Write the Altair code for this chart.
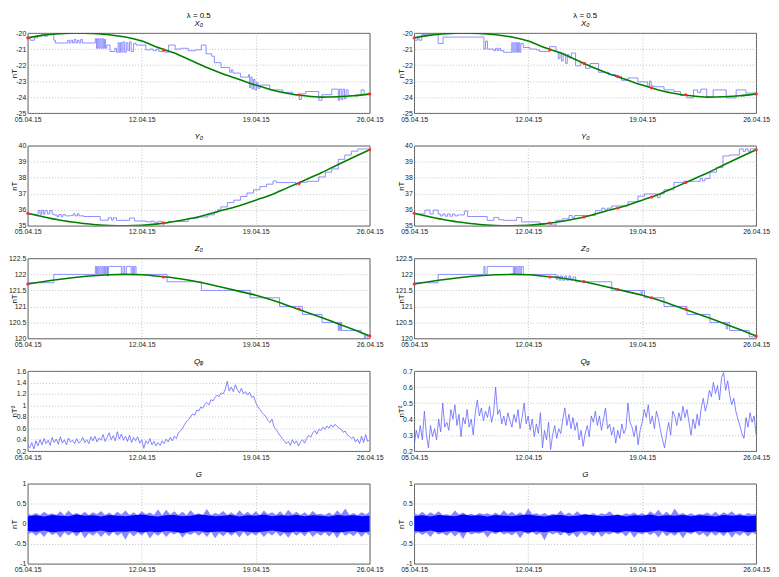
import json
import altair as alt
import numpy as np
import pandas as pd

# ---------------- axis text ----------------
TICK_DAYS = [0, 7, 14, 21]
TICK_LABELS = ["05.04.15", "12.04.15", "19.04.15", "26.04.15"]

# ---------------- fitted curves (value per day 0..21) ----------------
FIT_DAYS = list(range(22))
X0_FIT = [-20.3, -20.13, -20.04, -20.0, -20.02, -20.1, -20.25, -20.5, -20.9, -21.25, -21.7,
          -22.15, -22.55, -22.9, -23.25, -23.55, -23.78, -23.92, -24.0, -23.98, -23.92, -23.8]
Y0_FIT = [35.78, 35.55, 35.35, 35.2, 35.08, 35.02, 35.0, 35.03, 35.12, 35.27, 35.45,
          35.7, 35.98, 36.25, 36.6, 36.95, 37.4, 37.85, 38.3, 38.8, 39.28, 39.75]
Z0_FIT = [121.70, 121.78, 121.85, 121.91, 121.96, 121.99, 122.0, 121.99, 121.94, 121.89, 121.81,
          121.71, 121.59, 121.47, 121.35, 121.2, 121.02, 120.84, 120.66, 120.47, 120.28, 120.08]

# ---------------- knots (red markers) ----------------
KNOTS_L = [0, 8.33, 16.67, 21]
KNOTS_R = [0, 8.33, 10.42, 12.5, 14.58, 16.67, 21]
X0_KNOT_L = [-20.3, -21.05, -23.85, -23.8]
X0_KNOT_R = [-20.3, -21.05, -21.89, -22.72, -23.42, -23.85, -23.8]
Y0_KNOT_L = [35.78, 35.17, 37.65, 39.75]
Y0_KNOT_R = [35.78, 35.17, 35.55, 36.11, 36.8, 37.7, 39.75]
Z0_KNOT_L = [121.70, 121.92, 120.92, 120.08]
Z0_KNOT_R = [121.70, 121.92, 121.78, 121.53, 121.27, 120.92, 120.08]

# ---------------- step traces (day, value) ----------------
X0_STEP_L = [(0, -20.35), (0.15, -20.45), (0.4, -20.3), (0.6, -20.15), (0.85, -20.05), (1.05, -20.2),
             (1.2, -20.05), (1.6, -20.45), (1.7, -20.62), (2.45, -20.45), (2.55, -20.62), (2.65, -20.45),
             (2.75, -20.62), (2.85, -20.4), (2.95, -20.62), (3.05, -20.45), (3.15, -20.62), (3.25, -20.4),
             (3.35, -20.62), (4.15, -20.35), (4.22, -20.95), (4.29, -20.35), (4.36, -20.95), (4.43, -20.35),
             (4.5, -20.95), (4.57, -20.35), (4.64, -20.95), (4.71, -20.4), (4.78, -20.95), (4.85, -20.75),
             (5.05, -21.15), (5.35, -20.95), (5.45, -21.2), (5.55, -20.6), (5.62, -21.2), (5.7, -20.6),
             (5.78, -21.2), (5.85, -20.55), (5.95, -21.2), (6.05, -20.6), (6.15, -21.1), (6.25, -20.55),
             (6.35, -21.15), (6.5, -20.65), (6.65, -20.75), (7.25, -21.05), (7.5, -21.0), (7.7, -21.1),
             (7.9, -21.0), (8.05, -21.15), (8.45, -21.2), (8.65, -20.75), (9.05, -21.0), (9.4, -20.95),
             (9.85, -21.1), (10.3, -21.05), (10.66, -20.75), (10.95, -21.3), (11.3, -21.45), (11.46, -21.85),
             (11.86, -22.15), (12.4, -22.45), (12.5, -22.3), (12.6, -22.5), (13.06, -22.75), (13.56, -22.6),
             (13.62, -23.4), (13.7, -22.75), (13.78, -23.5), (13.86, -22.9), (13.95, -23.55), (14.05, -23.1),
             (14.15, -23.45), (14.26, -23.25), (14.86, -23.55), (15.66, -23.7), (16.26, -23.85), (16.67, -24.15),
             (16.8, -23.8), (17.07, -23.65), (17.87, -24.2), (18.07, -23.85), (18.67, -23.5), (19.07, -24.2),
             (19.15, -23.5), (19.25, -24.15), (19.35, -23.5), (19.45, -24.1), (19.55, -23.55), (19.67, -23.9),
             (20.47, -23.55), (20.65, -23.85), (21, -23.8)]
X0_STEP_R = [(0, -20.45), (0.2, -20.35), (0.3, -20.45), (0.46, -20.1), (0.8, -20.15), (0.9, -20.05),
             (1.47, -20.65), (1.77, -20.25), (4.28, -21.0), (4.38, -20.5), (4.5, -21.0), (4.89, -21.1),
             (5.0, -20.95), (5.1, -21.1), (5.2, -20.95), (5.3, -21.1), (5.49, -21.2), (5.99, -20.6),
             (6.06, -21.2), (6.13, -20.6), (6.2, -21.2), (6.27, -20.6), (6.34, -21.2), (6.41, -20.6),
             (6.48, -21.2), (6.55, -20.65), (6.7, -20.9), (7.1, -21.0), (7.5, -21.05), (7.7, -21.15),
             (8.31, -20.85), (8.71, -21.15), (8.85, -21.6), (8.95, -21.2), (9.05, -21.75), (9.15, -21.3),
             (9.3, -21.9), (9.4, -21.35), (9.51, -21.55), (9.65, -21.25), (9.91, -22.05), (10.2, -21.85),
             (10.52, -22.2), (10.8, -21.9), (11.32, -22.45), (11.93, -22.6), (12.4, -22.7), (12.73, -22.95),
             (13.13, -22.8), (13.74, -23.05), (14.34, -23.3), (14.45, -23.0), (14.55, -23.3), (14.74, -23.35),
             (15.34, -23.55), (15.95, -23.65), (16.35, -23.9), (16.75, -24.05), (17.15, -23.55), (17.4, -23.7),
             (17.6, -23.5), (17.96, -24.0), (18.36, -23.55), (19.16, -24.05), (19.77, -23.55), (20.37, -23.75),
             (21, -23.75)]
Y0_STEP_L = [(0, 35.72), (0.64, 35.95), (0.75, 35.72), (0.85, 35.98), (0.95, 35.72), (1.05, 35.95),
             (1.2, 35.75), (1.35, 35.95), (1.5, 35.72), (1.64, 35.66), (1.8, 35.56), (1.9, 35.7), (2.05, 35.56),
             (2.15, 35.7), (2.3, 35.62), (2.64, 35.65), (2.8, 35.75), (2.9, 35.62), (3.05, 35.75), (3.15, 35.62),
             (3.44, 35.58), (4.45, 35.35), (4.95, 35.5), (5.15, 35.35), (5.25, 35.5), (5.45, 35.34), (6.25, 35.48),
             (6.55, 35.3), (7.25, 35.25), (7.6, 35.3), (7.75, 35.22), (8.0, 35.28), (8.25, 35.18), (8.65, 35.27),
             (9.85, 35.47), (10.46, 35.55), (11.06, 35.68), (11.46, 35.85), (11.66, 36.0), (11.86, 36.18),
             (12.26, 36.45), (12.66, 36.6), (13.06, 36.83), (13.46, 37.05), (13.86, 37.25), (14.26, 37.45),
             (14.66, 37.6), (15.06, 37.8), (15.26, 37.7), (16.46, 37.55), (16.67, 37.72), (17.17, 37.78),
             (17.87, 38.05), (18.27, 38.35), (18.67, 38.55), (19.07, 39.15), (19.47, 39.42), (19.87, 39.66),
             (20.27, 39.8), (21, 39.8)]
Y0_STEP_R = [(0, 35.74), (0.66, 35.98), (0.97, 35.74), (1.17, 35.98), (1.47, 35.74), (1.6, 35.62),
             (1.75, 35.74), (1.9, 35.6), (2.05, 35.74), (2.2, 35.6), (2.35, 35.74), (2.5, 35.62), (2.67, 35.68),
             (3.08, 35.92), (3.28, 35.58), (4.48, 35.34), (4.89, 35.52), (5.19, 35.38), (5.49, 35.34),
             (6.29, 35.52), (6.6, 35.24), (7.7, 35.14), (8.2, 35.2), (8.4, 35.05), (8.71, 35.34), (9.11, 35.44),
             (9.51, 35.64), (9.7, 35.5), (9.85, 35.64), (11.12, 35.94), (11.52, 36.1), (11.7, 35.98),
             (11.85, 36.1), (12.13, 36.24), (13.13, 36.5), (13.74, 36.85), (14.14, 36.99), (14.94, 36.75),
             (15.1, 37.0), (15.34, 37.25), (15.95, 37.71), (16.55, 37.78), (17.56, 37.95), (17.7, 37.8),
             (17.85, 37.95), (18.16, 38.35), (18.56, 38.65), (18.96, 39.36), (19.37, 39.42), (19.97, 39.8),
             (20.2, 39.65), (20.35, 39.8), (20.5, 39.65), (20.65, 39.8), (21, 39.8)]
Z0_STEP_L = [(0, 121.74), (1.6, 122.0), (4.15, 122.25), (4.22, 122.0), (4.29, 122.25), (4.36, 122.0),
             (4.43, 122.25), (4.5, 122.0), (4.57, 122.25), (4.64, 122.0), (4.71, 122.25), (4.78, 122.0),
             (4.85, 122.25), (4.9, 121.95), (4.95, 122.25), (5.75, 122.0), (5.85, 122.25), (5.95, 122.0),
             (6.05, 122.25), (6.35, 122.0), (6.42, 122.25), (6.5, 122.0), (6.57, 122.25), (6.65, 122.0),
             (8.55, 121.77), (10.66, 121.5), (13.66, 121.27), (15.46, 121.0), (16.87, 120.75), (18.07, 120.5),
             (19.07, 120.25), (19.12, 120.5), (19.17, 120.25), (19.22, 120.5), (19.27, 120.25), (20.47, 120.15),
             (20.67, 120.0), (20.75, 120.1), (20.85, 120.0), (21, 120.0)]
Z0_STEP_R = [(0, 121.74), (1.47, 122.0), (4.28, 122.25), (4.35, 122.0), (4.48, 122.25), (6.09, 122.0),
             (6.16, 122.25), (6.23, 122.0), (6.3, 122.25), (6.37, 122.0), (6.44, 122.25), (6.51, 122.0),
             (6.58, 122.25), (6.7, 122.0), (8.71, 121.85), (8.8, 121.95), (8.9, 121.82), (9.0, 121.95),
             (9.1, 121.82), (9.25, 121.95), (9.35, 121.82), (9.5, 121.95), (9.6, 121.82), (9.75, 121.92),
             (9.91, 121.77), (12.13, 121.5), (13.94, 121.38), (14.0, 121.5), (14.14, 121.27), (15.34, 121.0),
             (16.75, 120.75), (18.16, 120.5), (19.16, 120.3), (19.25, 120.5), (19.37, 120.25), (20.57, 120.05),
             (21, 120.05)]

# ---------------- Q (every 1/8 day) ----------------
Q_L = [0.30, 0.26, 0.35, 0.24, 0.38, 0.29, 0.40, 0.31,
       0.42, 0.33, 0.39, 0.30, 0.44, 0.35, 0.41, 0.32,
       0.45, 0.34, 0.40, 0.31, 0.43, 0.36, 0.39, 0.33,
       0.42, 0.34, 0.37, 0.44, 0.35, 0.40, 0.33, 0.45,
       0.38, 0.46, 0.36, 0.43, 0.39, 0.49, 0.37, 0.44,
       0.52, 0.40, 0.47, 0.38, 0.54, 0.41, 0.50, 0.39,
       0.46, 0.37, 0.48, 0.35, 0.44, 0.38, 0.45, 0.34,
       0.40, 0.25, 0.38, 0.33, 0.42, 0.31, 0.37, 0.29,
       0.35, 0.30, 0.38, 0.33, 0.41, 0.36, 0.44, 0.38,
       0.46, 0.42, 0.52, 0.55, 0.60, 0.66, 0.72, 0.75,
       0.80, 0.85, 0.83, 0.92, 0.90, 0.97, 0.95, 1.02,
       1.05, 1.01, 1.10, 1.08, 1.14, 1.18, 1.15, 1.22,
       1.20, 1.28, 1.42, 1.25, 1.32, 1.24, 1.36, 1.27,
       1.22, 1.30, 1.20, 1.24, 1.18, 1.23, 1.14, 1.16,
       1.05, 0.98, 0.93, 0.88, 0.84, 0.80, 0.74, 0.70,
       0.76, 0.62, 0.58, 0.52, 0.47, 0.42, 0.38, 0.33,
       0.37, 0.30, 0.40, 0.33, 0.38, 0.29, 0.36, 0.40,
       0.34, 0.42, 0.48, 0.44, 0.52, 0.56, 0.50, 0.58,
       0.56, 0.62, 0.58, 0.64, 0.60, 0.66, 0.62, 0.67,
       0.63, 0.60, 0.58, 0.53, 0.55, 0.48, 0.46, 0.42,
       0.45, 0.36, 0.41, 0.33, 0.46, 0.35, 0.49, 0.37,
       0.40]
Q_R = [0.24, 0.33, 0.28, 0.36, 0.27, 0.45, 0.30, 0.22,
       0.36, 0.29, 0.34, 0.27, 0.40, 0.32, 0.50, 0.35,
       0.38, 0.33, 0.46, 0.40, 0.49, 0.36, 0.43, 0.29,
       0.41, 0.37, 0.46, 0.35, 0.40, 0.30, 0.44, 0.52,
       0.42, 0.47, 0.39, 0.45, 0.41, 0.48, 0.38, 0.44,
       0.60, 0.43, 0.46, 0.37, 0.42, 0.36, 0.44, 0.39,
       0.35, 0.43, 0.38, 0.46, 0.34, 0.41, 0.50, 0.37,
       0.42, 0.33, 0.40, 0.29, 0.37, 0.31, 0.44, 0.22,
       0.33, 0.27, 0.38, 0.21, 0.30, 0.36, 0.28, 0.34,
       0.31, 0.40, 0.47, 0.36, 0.43, 0.34, 0.41, 0.33,
       0.38, 0.27, 0.33, 0.23, 0.31, 0.36, 0.29, 0.42,
       0.38, 0.45, 0.36, 0.42, 0.33, 0.40, 0.47, 0.34,
       0.37, 0.30, 0.35, 0.25, 0.33, 0.28, 0.37, 0.31,
       0.34, 0.50, 0.38, 0.35, 0.29, 0.36, 0.24, 0.33,
       0.38, 0.46, 0.41, 0.49, 0.37, 0.42, 0.34, 0.45,
       0.40, 0.33, 0.27, 0.22, 0.31, 0.38, 0.30, 0.45,
       0.42, 0.36, 0.44, 0.39, 0.48, 0.41, 0.46, 0.38,
       0.30, 0.40, 0.34, 0.43, 0.36, 0.47, 0.53, 0.45,
       0.50, 0.58, 0.54, 0.63, 0.56, 0.61, 0.52, 0.66,
       0.69, 0.58, 0.64, 0.55, 0.49, 0.53, 0.45, 0.40,
       0.36, 0.31, 0.28, 0.41, 0.35, 0.44, 0.38, 0.42,
       0.30]

# ---------------- G envelopes ----------------
GL_HI = [0.25, 0.22, 0.27, 0.21, 0.30, 0.23, 0.26, 0.22, 0.31, 0.21, 0.33, 0.23, 0.27, 0.22, 0.30, 0.21,
         0.29, 0.24, 0.32, 0.22, 0.28, 0.21, 0.30, 0.23, 0.33, 0.22, 0.29, 0.21, 0.31, 0.24, 0.28, 0.22,
         0.36, 0.21, 0.35, 0.23, 0.31, 0.22, 0.30, 0.21, 0.34, 0.23, 0.26, 0.22, 0.37, 0.21, 0.27, 0.24,
         0.32, 0.22, 0.29, 0.21, 0.34, 0.23, 0.30, 0.22, 0.31, 0.21, 0.33, 0.24, 0.29, 0.22, 0.31, 0.21,
         0.35, 0.23, 0.30, 0.22, 0.29, 0.21, 0.32, 0.23, 0.25, 0.22, 0.28, 0.21, 0.33, 0.24, 0.38, 0.22,
         0.27, 0.21, 0.29, 0.23, 0.30]
GL_LO = [-0.27, -0.21, -0.30, -0.22, -0.33, -0.20, -0.28, -0.23, -0.35, -0.21, -0.29, -0.22, -0.32, -0.20,
         -0.36, -0.23, -0.30, -0.21, -0.33, -0.22, -0.31, -0.20, -0.30, -0.23, -0.40, -0.21, -0.32, -0.22,
         -0.29, -0.20, -0.37, -0.23, -0.30, -0.21, -0.33, -0.22, -0.27, -0.20, -0.35, -0.23, -0.28, -0.21,
         -0.30, -0.22, -0.33, -0.20, -0.36, -0.23, -0.31, -0.21, -0.30, -0.22, -0.34, -0.20, -0.31, -0.23,
         -0.29, -0.21, -0.33, -0.22, -0.29, -0.20, -0.32, -0.23, -0.35, -0.21, -0.30, -0.22, -0.31, -0.20,
         -0.33, -0.23, -0.30, -0.21, -0.32, -0.22, -0.36, -0.20, -0.30, -0.23, -0.31, -0.21, -0.33, -0.22,
         -0.30]
GR_HI = [0.27, 0.22, 0.30, 0.21, 0.29, 0.23, 0.31, 0.22, 0.24, 0.21, 0.33, 0.23, 0.28, 0.22, 0.25, 0.21,
         0.27, 0.24, 0.26, 0.22, 0.28, 0.21, 0.34, 0.23, 0.30, 0.22, 0.29, 0.21, 0.38, 0.24, 0.26, 0.22,
         0.27, 0.21, 0.25, 0.23, 0.33, 0.22, 0.28, 0.21, 0.31, 0.23, 0.25, 0.22, 0.27, 0.21, 0.26, 0.24,
         0.31, 0.22, 0.24, 0.21, 0.26, 0.23, 0.28, 0.22, 0.27, 0.21, 0.31, 0.24, 0.35, 0.22, 0.30, 0.21,
         0.38, 0.23, 0.27, 0.22, 0.26, 0.21, 0.25, 0.23, 0.28, 0.22, 0.30, 0.21, 0.29, 0.24, 0.31, 0.22,
         0.26, 0.21, 0.27, 0.23, 0.25]
GR_LO = [-0.26, -0.21, -0.28, -0.22, -0.33, -0.20, -0.27, -0.23, -0.30, -0.21, -0.32, -0.22, -0.38, -0.20,
         -0.27, -0.23, -0.25, -0.21, -0.34, -0.22, -0.26, -0.20, -0.27, -0.23, -0.29, -0.21, -0.36, -0.22,
         -0.26, -0.20, -0.28, -0.23, -0.41, -0.21, -0.27, -0.22, -0.29, -0.20, -0.31, -0.23, -0.34, -0.21,
         -0.30, -0.22, -0.31, -0.20, -0.33, -0.23, -0.27, -0.21, -0.26, -0.22, -0.32, -0.20, -0.35, -0.23,
         -0.27, -0.21, -0.28, -0.22, -0.34, -0.20, -0.31, -0.23, -0.30, -0.21, -0.36, -0.22, -0.26, -0.20,
         -0.29, -0.23, -0.33, -0.21, -0.30, -0.22, -0.31, -0.20, -0.35, -0.23, -0.30, -0.21, -0.32, -0.22,
         -0.27]
G_CORE_HI = [0.19, 0.21, 0.18, 0.22, 0.20, 0.19, 0.23, 0.20, 0.21, 0.18, 0.22, 0.20, 0.19, 0.21, 0.23, 0.20,
             0.18, 0.21, 0.22, 0.19, 0.20, 0.23, 0.21, 0.19, 0.20, 0.22, 0.18, 0.21, 0.20, 0.23, 0.19, 0.21,
             0.20, 0.22, 0.19, 0.21, 0.20, 0.18, 0.22, 0.20, 0.21, 0.19, 0.20]
G_CORE_LO = [-0.18, -0.20, -0.17, -0.21, -0.19, -0.18, -0.22, -0.19, -0.20, -0.17, -0.21, -0.19, -0.20,
             -0.18, -0.22, -0.19, -0.21, -0.18, -0.20, -0.23, -0.19, -0.18, -0.21, -0.20, -0.19, -0.22,
             -0.18, -0.20, -0.21, -0.19, -0.17, -0.20, -0.22, -0.19, -0.21, -0.18, -0.20, -0.19, -0.22,
             -0.20, -0.18, -0.21, -0.19]

# ---------------- styling ----------------
W, H = 346, 81
BLUE_STEP = "#7272ff"
BLUE_Q = "#6464ff"
GREEN = "#008000"
RED = "#ff2a2a"
G_OUTER = "#8888ff"
G_CORE = "#0000ff"
GRID = "#a8a8a8"

x_expr = f"{json.dumps(TICK_LABELS)}[indexof({json.dumps(TICK_DAYS)}, datum.value)]"


def xenc():
    return alt.X("t:Q", scale=alt.Scale(domain=[0, 21], nice=False, zero=False),
                 axis=alt.Axis(values=TICK_DAYS, labelExpr=x_expr, title=None, grid=True,
                               gridDash=[1, 2], gridColor=GRID, gridWidth=0.7, ticks=False, domain=False,
                               labelFontSize=7, labelPadding=2, labelFlush=False, labelOverlap=False,
                               labelColor="#222222"))


def yenc(domain, ticks, title):
    return alt.Y("v:Q", scale=alt.Scale(domain=domain, nice=False, zero=False),
                 axis=alt.Axis(values=ticks, labelExpr="datum.value + ''", title=title, grid=True,
                               gridDash=[1, 2], gridColor=GRID, gridWidth=0.7, ticks=False, domain=False,
                               labelFontSize=7, labelPadding=2, labelFlush=False, labelOverlap=False,
                               labelColor="#222222", titleFontSize=8, titleFontWeight="normal",
                               titleColor="black", titleX=-9, titleY=H / 2))


def ptitle(text, sub=None):
    if sub is None:
        return alt.TitleParams(text=text, fontSize=8, fontStyle="italic", fontWeight="normal",
                               color="black", offset=1, anchor="middle")
    return alt.TitleParams(text=text, subtitle=sub, fontSize=8, fontWeight="normal", color="black",
                           subtitleFontSize=8, subtitleFontStyle="italic", subtitleColor="black",
                           subtitlePadding=0, offset=1, anchor="middle")


def fit_panel(step, fit, knots_t, knots_v, domain, ticks, title):
    xe, ye = xenc(), yenc(domain, ticks, "nT")
    d_step = pd.DataFrame(step, columns=["t", "v"])
    d_fit = pd.DataFrame({"t": FIT_DAYS, "v": fit})
    d_knot = pd.DataFrame({"t": knots_t, "v": knots_v})
    l1 = alt.Chart(d_step).mark_line(interpolate="step-after", color=BLUE_STEP, strokeWidth=0.8,
                                     clip=True).encode(x=xe, y=ye)
    l2 = alt.Chart(d_fit).mark_line(interpolate="monotone", color=GREEN, strokeWidth=1.6,
                                    clip=True).encode(x=xe, y=ye)
    l3 = alt.Chart(d_knot).mark_point(filled=True, size=10, color=RED, opacity=1).encode(x=xe, y=ye)
    return alt.layer(l1, l2, l3).properties(width=W, height=H, title=title)


def q_panel(vals, domain, ticks):
    xe, ye = xenc(), yenc(domain, ticks, "nT²")
    d = pd.DataFrame({"t": np.linspace(0, 21, len(vals)), "v": vals})
    l = alt.Chart(d).mark_line(color=BLUE_Q, strokeWidth=0.8, clip=True).encode(x=xe, y=ye)
    return l.properties(width=W, height=H, title=ptitle("Qᵩ"))


def g_panel(hi, lo):
    xe, ye = xenc(), yenc([-1, 1], [-1, -0.5, 0, 0.5, 1], "nT")
    d_out = pd.DataFrame({"t": np.linspace(0, 21, len(hi)), "v": lo, "v2": hi})
    d_core = pd.DataFrame({"t": np.linspace(0, 21, len(G_CORE_HI)), "v": G_CORE_LO, "v2": G_CORE_HI})
    a1 = alt.Chart(d_out).mark_area(color=G_OUTER, clip=True).encode(x=xe, y=ye, y2="v2:Q")
    a2 = alt.Chart(d_core).mark_area(color=G_CORE, clip=True).encode(x=xe, y=ye, y2="v2:Q")
    return alt.layer(a1, a2).properties(width=W, height=H, title=ptitle("G"))


X_TICKS = [-25, -24, -23, -22, -21, -20]
Y_TICKS = [35, 36, 37, 38, 39, 40]
Z_TICKS = [120, 120.5, 121, 121.5, 122, 122.5]
QL_TICKS = [0.2, 0.4, 0.6, 0.8, 1, 1.2, 1.4, 1.6]
QR_TICKS = [0.2, 0.3, 0.4, 0.5, 0.6, 0.7]

panels = [
    fit_panel(X0_STEP_L, X0_FIT, KNOTS_L, X0_KNOT_L, [-25, -20], X_TICKS, ptitle("λ = 0.5", "X₀")),
    fit_panel(X0_STEP_R, X0_FIT, KNOTS_R, X0_KNOT_R, [-25, -20], X_TICKS, ptitle("λ = 0.5", "X₀")),
    fit_panel(Y0_STEP_L, Y0_FIT, KNOTS_L, Y0_KNOT_L, [35, 40], Y_TICKS, ptitle("Y₀")),
    fit_panel(Y0_STEP_R, Y0_FIT, KNOTS_R, Y0_KNOT_R, [35, 40], Y_TICKS, ptitle("Y₀")),
    fit_panel(Z0_STEP_L, Z0_FIT, KNOTS_L, Z0_KNOT_L, [120, 122.5], Z_TICKS, ptitle("Z₀")),
    fit_panel(Z0_STEP_R, Z0_FIT, KNOTS_R, Z0_KNOT_R, [120, 122.5], Z_TICKS, ptitle("Z₀")),
    q_panel(Q_L, [0.2, 1.6], QL_TICKS),
    q_panel(Q_R, [0.2, 0.7], QR_TICKS),
    g_panel(GL_HI, GL_LO),
    g_panel(GR_HI, GR_LO),
]

chart = (
    alt.concat(*panels, columns=2, spacing={"row": 33, "column": 45}, bounds="flush")
    .properties(padding=0)
    .configure(font="Liberation Sans")
    .configure_view(stroke="#333333", strokeWidth=0.8)
)

chart.save("out.html", embed_options={"renderer": "svg", "actions": False})
